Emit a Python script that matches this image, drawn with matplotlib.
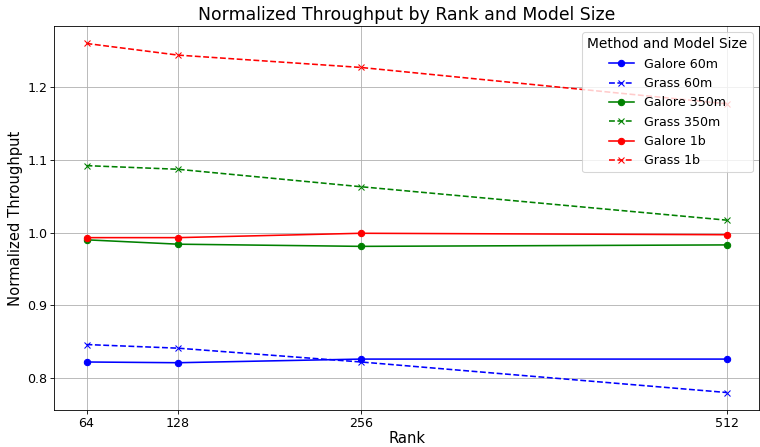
import matplotlib
matplotlib.use("Agg")
import matplotlib.pyplot as plt

ranks = [64, 128, 256, 512]

galore_60m = [0.822, 0.821, 0.826, 0.826]
grass_60m = [0.846, 0.841, 0.822, 0.780]
galore_350m = [0.990, 0.984, 0.981, 0.983]
grass_350m = [1.092, 1.087, 1.063, 1.017]
galore_1b = [0.993, 0.993, 0.999, 0.997]
grass_1b = [1.260, 1.244, 1.227, 1.177]

series = [
    ("Galore 60m", galore_60m, "blue", "-", "o"),
    ("Grass 60m", grass_60m, "blue", "--", "x"),
    ("Galore 350m", galore_350m, "green", "-", "o"),
    ("Grass 350m", grass_350m, "green", "--", "x"),
    ("Galore 1b", galore_1b, "red", "-", "o"),
    ("Grass 1b", grass_1b, "red", "--", "x"),
]

# figure drawn at a low dpi so that everything comes out at 760x447
fig, ax = plt.subplots(figsize=(10, 447 / 76), dpi=76)

for label, vals, color, ls, marker in series:
    ax.plot(ranks, vals, color=color, linestyle=ls, marker=marker, label=label)

ax.set_xticks(ranks)
ax.set_xticklabels([str(r) for r in ranks])
ax.tick_params(labelsize=12)
ax.set_xlabel("Rank", fontsize=14, labelpad=1)
ax.set_ylabel("Normalized Throughput", fontsize=14)
ax.set_title("Normalized Throughput by Rank and Model Size", fontsize=16.3)
ax.grid(True)
ax.legend(title="Method and Model Size", loc="upper right", fontsize=12, title_fontsize=13)

plt.subplots_adjust(left=0.0717, right=0.9987, top=0.9418, bottom=0.0828)
plt.savefig("out.png")
